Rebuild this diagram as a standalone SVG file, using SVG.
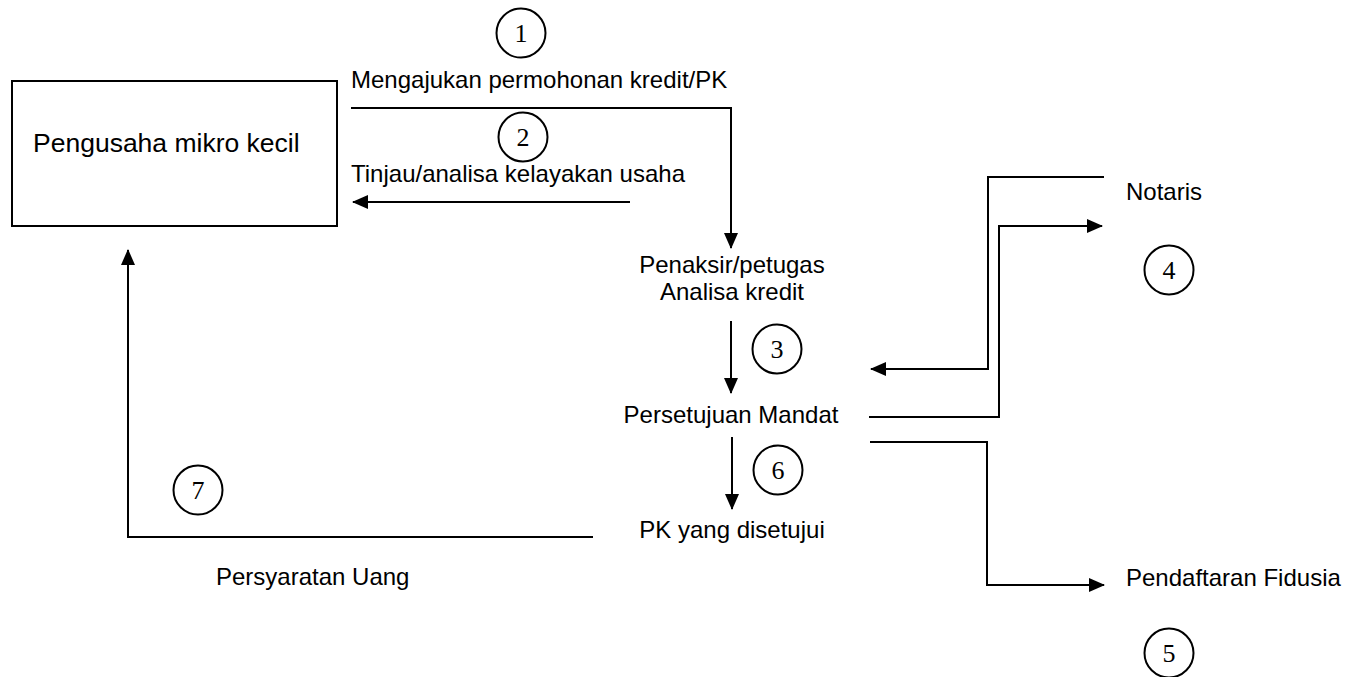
<svg xmlns="http://www.w3.org/2000/svg" width="1358" height="677" viewBox="0 0 1358 677">
<style>
.lbl{font-family:"Liberation Sans",Arial,sans-serif;font-size:24px;fill:#000}
.num{font-family:"Liberation Serif","Times New Roman",serif;font-size:26px;fill:#000;text-anchor:middle}
.c{fill:none;stroke:#000;stroke-width:2}
.ln{fill:none;stroke:#000;stroke-width:2}
</style>
<defs>
<marker id="ah" markerUnits="userSpaceOnUse" markerWidth="16" markerHeight="14" refX="15" refY="7" orient="auto">
<path d="M0,0 L16,7 L0,14 z" fill="#000"/>
</marker>
</defs>
<rect width="1358" height="677" fill="#fff"/>
<g id="connectors">
<path class="ln" d="M351 108 H731 V248" marker-end="url(#ah)"/>
<path class="ln" d="M630 202 H353" marker-end="url(#ah)"/>
<path class="ln" d="M731 321 V393" marker-end="url(#ah)"/>
<path class="ln" d="M1104 177 H988 V369 H871" marker-end="url(#ah)"/>
<path class="ln" d="M869 417 H999 V226 H1102" marker-end="url(#ah)"/>
<path class="ln" d="M870 442 H987 V585 H1104" marker-end="url(#ah)"/>
<path class="ln" d="M732 437 V509" marker-end="url(#ah)"/>
<path class="ln" d="M593 537 H128 V250" marker-end="url(#ah)"/>
</g>
<g id="node-pengusaha">
<rect x="12" y="81" width="325" height="145" fill="#fff" stroke="#000" stroke-width="2"/>
<text class="lbl" x="33" y="152" style="font-size:26.5px">Pengusaha mikro kecil</text>
</g>
<g id="label-1">
<circle class="c" cx="521" cy="33" r="24.5"/>
<text class="num" x="521" y="42">1</text>
<text class="lbl" x="351" y="88">Mengajukan permohonan kredit/PK</text>
</g>
<g id="label-2">
<circle class="c" cx="523" cy="137" r="24.5"/>
<text class="num" x="523" y="146">2</text>
<text class="lbl" x="351" y="182">Tinjau/analisa kelayakan usaha</text>
</g>
<g id="node-penaksir">
<text class="lbl" x="732" y="273" text-anchor="middle">Penaksir/petugas</text>
<text class="lbl" x="732" y="300" text-anchor="middle">Analisa kredit</text>
</g>
<g id="label-3">
<circle class="c" cx="777" cy="349" r="24.5"/>
<text class="num" x="777" y="358">3</text>
</g>
<g id="node-persetujuan">
<text class="lbl" x="731" y="423" text-anchor="middle">Persetujuan Mandat</text>
</g>
<g id="label-6">
<circle class="c" cx="778" cy="470" r="24.5"/>
<text class="num" x="778" y="479">6</text>
</g>
<g id="node-pk">
<text class="lbl" x="732" y="538" text-anchor="middle">PK yang disetujui</text>
</g>
<g id="node-notaris">
<text class="lbl" x="1126" y="200">Notaris</text>
</g>
<g id="label-4">
<circle class="c" cx="1169" cy="270" r="24.5"/>
<text class="num" x="1169" y="279">4</text>
</g>
<g id="node-fidusia">
<text class="lbl" x="1126" y="586">Pendaftaran Fidusia</text>
</g>
<g id="label-5">
<circle class="c" cx="1169" cy="653" r="24.5"/>
<text class="num" x="1169" y="662">5</text>
</g>
<g id="label-7">
<circle class="c" cx="198" cy="490" r="24.5"/>
<text class="num" x="198" y="499">7</text>
<text class="lbl" x="216" y="585">Persyaratan Uang</text>
</g>
</svg>
